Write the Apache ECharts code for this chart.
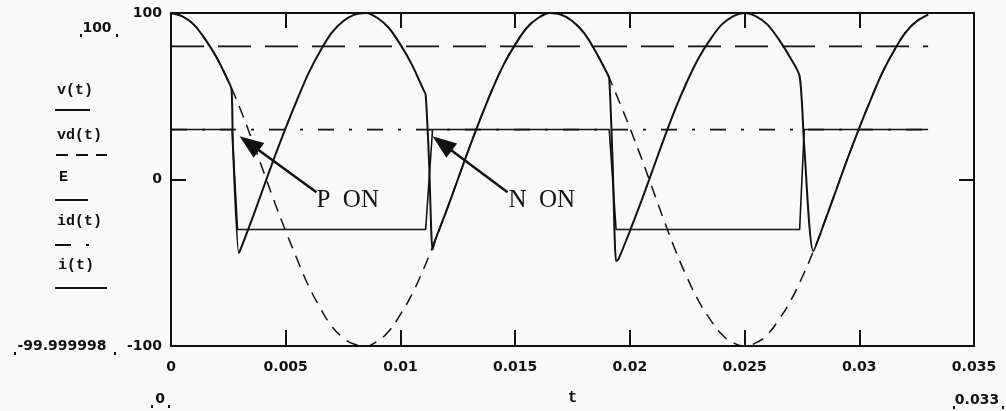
<!DOCTYPE html>
<html><head><meta charset="utf-8">
<script src="https://cdn.jsdelivr.net/npm/echarts@6/dist/echarts.min.js"></script>
<style>html,body{margin:0;padding:0;background:#fafafa}#c{width:1006px;height:411px}</style>
</head><body><div id="c"></div>
<script>
// ---- data ----
const xTickLabels = ['0','0.005','0.01','0.015','0.02','0.025','0.03','0.035'];
const yTickLabels = ['-100','0','100'];

// sine trace (dashed)
const tGrid = [0,0.0005,0.001,0.0015,0.002,0.0025,0.003,0.0035,0.004,0.0045,0.005,0.0055,0.006,0.0065,0.007,0.0075,0.008,0.0085,0.009,0.0095,0.01,0.0105,0.011,0.0115,0.012,0.0125,0.013,0.0135,0.014,0.0145,0.015,0.0155,0.016,0.0165,0.017,0.0175,0.018,0.0185,0.019,0.0195,0.02,0.0205,0.021,0.0215,0.022,0.0225,0.023,0.0235,0.024,0.0245,0.025,0.0255,0.026,0.0265,0.027,0.0275,0.028,0.0285,0.029,0.0295,0.03,0.0305,0.031,0.0315,0.032,0.0325,0.033];
const vdValues = [100,98,93,84,73,59,43,25,6,-13,-31,-48,-64,-77,-88,-95,-99,-100,-97,-91,-81,-69,-54,-37,-19,0,19,37,54,69,81,91,97,100,99,95,88,77,64,48,31,13,-6,-25,-43,-59,-73,-84,-93,-98,-100,-98,-93,-84,-73,-59,-43,-25,-6,13,31,48,64,77,88,95,99];

// switched trace (solid)
const vT = [0,0.0005,0.001,0.0015,0.002,0.0025,0.00264,0.0027,0.00295,0.003,0.0035,0.004,0.0045,0.005,0.0055,0.006,0.0065,0.007,0.0075,0.008,0.0085,0.009,0.0095,0.01,0.0105,0.011,0.0111,0.01125,0.0114,0.0115,0.012,0.0125,0.013,0.0135,0.014,0.0145,0.015,0.0155,0.016,0.0165,0.017,0.0175,0.018,0.0185,0.019,0.0191,0.01925,0.0194,0.0195,0.02,0.0205,0.021,0.0215,0.022,0.0225,0.023,0.0235,0.024,0.0245,0.025,0.0255,0.026,0.0265,0.027,0.0274,0.0276,0.028,0.0285,0.029,0.0295,0.03,0.0305,0.031,0.0315,0.032,0.0325,0.033];
const vV = [100,98,93,84,73,59,54,20,-44,-43,-25,-6,13,31,48,64,77,88,95,99,100,97,91,81,69,54,51,10,-42,-37,-19,0,19,37,54,69,81,91,97,100,99,95,88,77,64,61,10,-49,-48,-31,-13,6,25,43,59,73,84,93,98,100,98,93,84,73,62,20,-43,-25,-6,13,31,48,64,77,88,95,99];

// square wave (solid thin)
const iT = [0,0.00266,0.0029,0.0111,0.0114,0.0191,0.0194,0.0274,0.0276,0.033];
const iV = [30,30,-30,-30,30,30,-30,-30,30,30];

// constants
const constT = [0,0.033];
const eValue = [80,80];
const idValue = [30,30];

// annotations (data coordinates)
const annotations = [
  {text:'P  ON', t:0.00634, v:-12.5, tipT:0.00299, tipV:26, tailT:0.00634, tailV:-7.7},
  {text:'N  ON', t:0.01471, v:-12.5, tipT:0.0114, tipV:26, tailT:0.01467, tailV:-7.7}
];

const zip = (a,b) => a.map((x,i)=>[x,b[i]]);
const INK = '#111';
const tickFont = {fontFamily:'"DejaVu Sans"', fontWeight:'bold', fontSize:14, color:INK};

const chart = echarts.init(document.getElementById('c'), null, {renderer:'canvas'});

const axisCommon = {
  type:'value', axisLine:{show:true, onZero:false, lineStyle:{color:INK, width:2}},
  splitLine:{show:false}
};

const option = {
  backgroundColor:'#fafafa',
  animation:false,
  grid:{left:171, right:32, top:13, bottom:60, show:false},
  xAxis:[
    Object.assign({}, axisCommon, {
      position:'bottom', min:0, max:0.035, interval:0.005,
      axisTick:{show:true, inside:true, length:16, lineStyle:{color:INK, width:2}},
      axisLabel:Object.assign({margin:14, formatter:(v)=>xTickLabels[Math.round(v/0.005)]}, tickFont),
      name:'t', nameLocation:'middle', nameGap:44,
      nameTextStyle:{fontFamily:'"Liberation Mono"', fontWeight:'bold', fontSize:16, color:INK}
    }),
    Object.assign({}, axisCommon, {
      position:'top', min:0, max:0.035, interval:0.005,
      axisTick:{show:true, inside:true, length:15, lineStyle:{color:INK, width:2}},
      axisLabel:{show:false}
    })
  ],
  yAxis:[
    Object.assign({}, axisCommon, {
      position:'left', min:-100, max:100, interval:100,
      axisTick:{show:true, inside:true, length:15, lineStyle:{color:INK, width:2}},
      axisLabel:Object.assign({margin:9, padding:[6,0,0,0], formatter:(v)=>yTickLabels[Math.round((v+100)/100)]}, tickFont)
    }),
    Object.assign({}, axisCommon, {
      position:'right', min:-100, max:100, interval:100,
      axisTick:{show:true, inside:true, length:15, lineStyle:{color:INK, width:2}},
      axisLabel:{show:false}
    })
  ],
  series:[
    {name:'E', type:'line', data:zip(constT,eValue), showSymbol:false, symbol:'none',
     lineStyle:{color:INK, width:1.8, type:[33,14]}},
    {name:'id(t)', type:'line', data:zip(constT,idValue), showSymbol:false, symbol:'none',
     lineStyle:{color:INK, width:1.8, type:[16,15,3,15]}},
    {name:'vd(t)', type:'line', data:zip(tGrid,vdValues), showSymbol:false, symbol:'none', smooth:0.5,
     lineStyle:{color:INK, width:1.5, type:[12,8]}},
    {name:'i(t)', type:'line', data:zip(iT,iV), showSymbol:false, symbol:'none',
     lineStyle:{color:INK, width:1.6}},
    {name:'v(t)', type:'line', data:zip(vT,vV), showSymbol:false, symbol:'none', smooth:0.25,
     lineStyle:{color:INK, width:2}}
  ]
};
chart.setOption(option);

// static layout texts (Mathcad labels)
const mono = {font:'bold 15px "Liberation Mono"', fill:INK};
const leg = [
  {txt:'v(t)', x:57, y:90, ly:110, x1:55, x2:90, dash:null},
  {txt:'vd(t)', x:57, y:135, ly:155, x1:56, x2:107, dash:[12,8]},
  {txt:'E', x:59, y:177, ly:200, x1:55, x2:89, dash:[33,14]},
  {txt:'id(t)', x:57, y:221, ly:245, x1:55, x2:92, dash:[16,15,3,15]},
  {txt:'i(t)', x:58, y:265, ly:288, x1:55, x2:107, dash:null}
];
const g = [];
leg.forEach(l=>{
  g.push({type:'text', x:l.x, y:l.y, style:Object.assign({text:l.txt, verticalAlign:'middle', align:'left'}, mono)});
  g.push({type:'line', shape:{x1:l.x1, y1:l.ly, x2:l.x2, y2:l.ly}, style:{stroke:INK, lineWidth:1.8, lineDash:l.dash||null}});
});
const tf = 'bold 14px "DejaVu Sans"';
const rng = [
  {txt:'100', x:97, y:28, l:80, r:116},
  {txt:'-99.999998', x:62, y:346, l:14, r:114},
  {txt:'0', x:160, y:399, l:151, r:168},
  {txt:'0.033', x:977, y:400, l:953, r:1002}
];
rng.forEach(r=>{
  g.push({type:'text', x:r.x, y:r.y, style:{text:r.txt, font:tf, fill:INK, align:'center', verticalAlign:'middle'}});
  g.push({type:'rect', shape:{x:r.l, y:r.y+6, width:2, height:3}, style:{fill:INK}});
  g.push({type:'rect', shape:{x:r.r, y:r.y+6, width:2, height:3}, style:{fill:INK}});
});
annotations.forEach(a=>{
  const p = chart.convertToPixel({xAxisIndex:0, yAxisIndex:0}, [a.t, a.v]);
  const tip = chart.convertToPixel({xAxisIndex:0, yAxisIndex:0}, [a.tipT, a.tipV]);
  const tail = chart.convertToPixel({xAxisIndex:0, yAxisIndex:0}, [a.tailT, a.tailV]);
  const dx = tip[0]-tail[0], dy = tip[1]-tail[1], L = Math.hypot(dx,dy);
  const ux = dx/L, uy = dy/L, hl = 24, hw = 9;
  const bx = tip[0]-ux*hl, by = tip[1]-uy*hl;
  g.push({type:'line', shape:{x1:tail[0], y1:tail[1], x2:bx+ux*4, y2:by+uy*4}, style:{stroke:INK, lineWidth:2.5}});
  g.push({type:'polygon', shape:{points:[[tip[0],tip[1]],[bx-uy*hw,by+ux*hw],[bx+uy*hw,by-ux*hw]]}, style:{fill:INK}});
  g.push({type:'text', x:p[0], y:p[1], style:{text:a.text, font:'25px "Liberation Serif"', fill:INK, align:'left', verticalAlign:'middle'}});
});
chart.setOption({graphic:g});
</script></body></html>
